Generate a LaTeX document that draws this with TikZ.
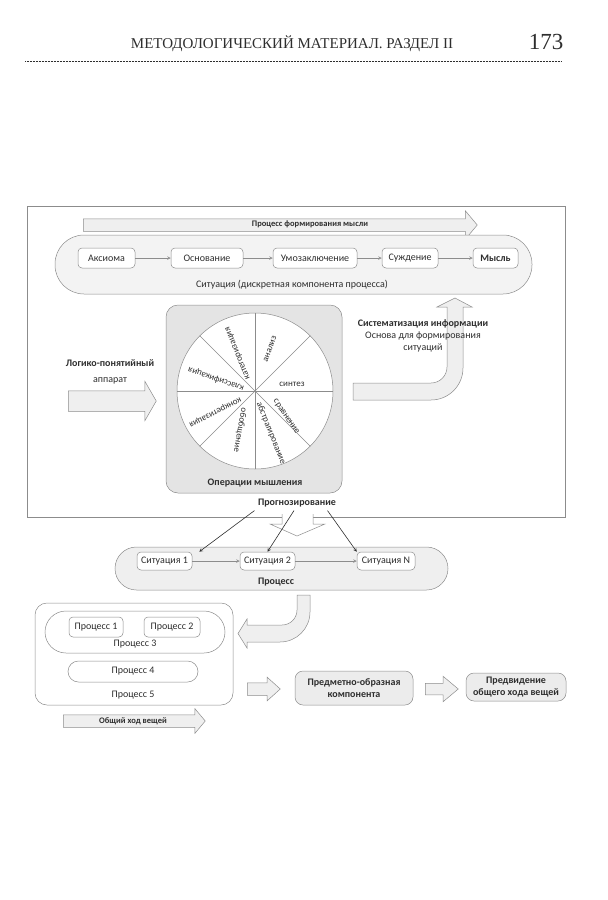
\documentclass[tikz,border=0pt]{standalone}
\usepackage{fontspec}
\setmainfont{Carlito}
\newfontfamily\headfont{Liberation Serif}
\usetikzlibrary{positioning,shapes.arrows}
\definecolor{edge}{HTML}{8C8C8C}
\definecolor{pale}{HTML}{E4E4E4}
\definecolor{ink}{HTML}{2E2E2E}

\begin{document}
\begin{tikzpicture}[x=1pt, y=1pt,
  stepbox/.style={rounded corners=4pt, draw=edge, fill=white, line width=0.5pt,
                  minimum height=20pt, inner sep=1pt,
                  font=\fontsize{10}{11}\selectfont, text=ink},
  pill/.style={rounded corners=#1, draw=edge, line width=0.5pt, inner sep=0pt},
  bigarrow/.style={single arrow, draw=edge, fill=pale!60, line width=0.5pt,
                   single arrow head indent=0pt, inner xsep=0pt, anchor=tail},
  flow/.style={->, >=stealth, draw=edge, line width=0.6pt},
  pointer/.style={->, >=stealth, draw=ink, line width=0.6pt},
  lbl/.style={font=\fontsize{10}{11}\selectfont, text=ink},
  blbl/.style={font=\bfseries\fontsize{10}{11.5}\selectfont, text=ink},
  sector/.style={font=\fontsize{9}{10}\selectfont, text=ink, inner sep=0pt}
]
\useasboundingbox (0,0) rectangle (608,-900);

% --- page head ---
\node[font=\headfont\fontsize{15}{18}\selectfont, text=ink] (runhead) at (292,-44) {МЕТОДОЛОГИЧЕСКИЙ МАТЕРИАЛ. РАЗДЕЛ II};
\node[font=\headfont\fontsize{23}{28}\selectfont, text=ink] (folio) at (546,-42) {173};
\draw[ink, line width=0.6pt, dash pattern=on 0.5pt off 1pt] (25,-61) -- (562,-61);

% --- upper frame ---
\node[draw=edge, line width=0.5pt, minimum width=538pt, minimum height=311pt, inner sep=0pt] (frame) at (296,-361.5) {};
\node[bigarrow, minimum height=394pt, inner ysep=6pt, single arrow head extend=8pt, single arrow tip angle=100] (form) at (83,-225) {};
\node[blbl, font=\bfseries\fontsize{8.5}{10}\selectfont] at (310,-224) {Процесс формирования мысли};

% --- situation ---
\node[pill=29pt, fill=pale!45, minimum width=477pt, minimum height=59pt] (sit) at (293.5,-264.5) {};
\node[lbl] at (292,-285) {Ситуация (дискретная компонента процесса)};
\node[stepbox, minimum width=57pt] (axiom) at (106.5,-258) {Аксиома};
\node[stepbox, minimum width=72pt] (basis) at (207,-258) {Основание};
\node[stepbox, minimum width=84pt] (infer) at (315,-258) {Умозаключение};
\node[stepbox, minimum width=56pt] (judge) at (410,-258) {Суждение};
\node[stepbox, minimum width=45pt, font=\bfseries\fontsize{10}{11}\selectfont] (thought) at (495.5,-258) {Мысль};
\draw[flow] (axiom) -- (basis);
\draw[flow] (basis) -- (infer);
\draw[flow] (infer) -- (judge);
\draw[flow] (judge) -- (thought);

% --- operations wheel ---
\node[pill=12pt, fill=pale, minimum width=176pt, minimum height=188pt] (ops) at (254,-399) {};
\node[circle, draw=edge, fill=white, line width=0.5pt, minimum size=156pt, inner sep=0pt] (wheel) at (255,-391) {};
\foreach \a in {0,45,...,315}
  \draw[edge, line width=0.5pt] (wheel.center) -- (wheel.\a);
\begin{scope}[shift={(wheel.center)}]
\foreach \dx/\dy/\r/\t in {-17/38/112/категоризация, 15/42/70/анализ, 37/7/0/синтез,
    31/-26/-56/сравнение, 16/-42/-68/абстрагирование, -15/-39/-100/обобщение,
    -40/-21/-153/конкретизация, -39/12/161/классификация}
  \node[sector, rotate=\r] at (\dx,\dy) {\t};
\end{scope}
\node[blbl] at (255,-483) {Операции мышления};

% --- input and output ---
\node[bigarrow, minimum height=88pt, inner ysep=10pt, single arrow head extend=9.5pt, single arrow tip angle=120] (logic) at (68,-401) {};
\node[lbl, align=center] at (110,-372) {\textbf{Логико-понятийный}\\[5pt]аппарат};
\draw[edge, fill=pale!60, line width=0.5pt]
  (353,-383) -- (431,-383) arc[start angle=-90, end angle=0, radius=16] -- (447,-307)
  -- (437,-307) -- (455,-298) -- (472,-307) -- (463,-307) -- (463,-368)
  arc[start angle=0, end angle=-90, radius=32] -- (353,-400) -- cycle;
\node[lbl, align=center, font=\fontsize{10}{12}\selectfont] (sys) at (423,-336) {\textbf{Систематизация информации}\\Основа для формирования\\ситуаций};

% --- forecasting ---
\node[blbl] (prog) at (297,-503) {Прогнозирование};
\fill[white] (282,-514) -- (282,-524) -- (270,-524) -- (297,-536) -- (325,-524) -- (313,-524) -- (313,-514) -- cycle;
\draw[edge, line width=0.5pt] (282,-514) -- (282,-524) -- (270,-524) -- (297,-536) -- (325,-524) -- (313,-524) -- (313,-514);

% --- process ---
\node[pill=21.5pt, fill=pale!60, minimum width=333pt, minimum height=43pt] (proc) at (281.5,-568.5) {};
\node[blbl] at (276,-582) {Процесс};
\node[stepbox, minimum width=55pt, minimum height=18pt] (s1) at (164.5,-561) {Ситуация 1};
\node[stepbox, minimum width=55pt, minimum height=18pt] (s2) at (267.5,-561) {Ситуация 2};
\node[stepbox, minimum width=58pt, minimum height=18pt] (sN) at (386,-561) {Ситуация N};
\draw[flow] (s1) -- (s2);
\draw[flow] (s2) -- (sN);
\draw[pointer] (prog.south west) -- ([xshift=7pt]s1.north east);
\draw[pointer] ([xshift=-3pt]prog.south) -- (s2.north);
\draw[pointer] ([xshift=-12pt]prog.south east) -- (sN.north west);
\draw[edge, fill=pale!60, line width=0.5pt]
  (297,-595) -- (297,-610) arc[start angle=0, end angle=-90, radius=15] -- (247,-625)
  -- (247,-619) -- (238,-633.5) -- (247,-648) -- (247,-642) -- (280,-642)
  arc[start angle=-90, end angle=0, radius=30] -- (310,-595) -- cycle;

% --- nested processes ---
\node[pill=12pt, fill=white, minimum width=198pt, minimum height=102pt] (p5) at (134,-654) {};
\node[pill=21pt, fill=white, minimum width=180pt, minimum height=42pt] (p3) at (135,-632) {};
\node[stepbox, minimum width=54pt] (p1) at (96,-627) {Процесс 1};
\node[stepbox, minimum width=56pt] (p2) at (172,-627) {Процесс 2};
\node[lbl] at (135,-644) {Процесс 3};
\node[pill=10.5pt, lbl, fill=white, minimum width=130pt, minimum height=21pt] (p4) at (133,-671.5) {Процесс 4};
\node[lbl] at (133,-695) {Процесс 5};
\node[bigarrow, minimum height=142pt, inner ysep=6pt, single arrow head extend=6pt, single arrow tip angle=100] (course) at (63,-721) {};
\node[blbl, font=\bfseries\fontsize{8.5}{10}\selectfont] at (133,-721) {Общий ход вещей};

% --- outcome ---
\node[bigarrow, minimum height=33pt, inner ysep=6pt, single arrow head extend=5.5pt, single arrow tip angle=84] (go1) at (247,-689) {};
\node[pill=8pt, blbl, fill=pale!70, minimum width=118pt, minimum height=34pt, align=center] (imag) at (354,-688) {Предметно-образная\\компонента};
\node[bigarrow, minimum height=33pt, inner ysep=5.5pt, single arrow head extend=7pt, single arrow tip angle=80] (go2) at (425,-689) {};
\node[pill=8pt, blbl, fill=pale!70, minimum width=100pt, minimum height=28pt, align=center] (fore) at (516,-687) {Предвидение\\общего хода вещей};

\end{tikzpicture}
\end{document}
